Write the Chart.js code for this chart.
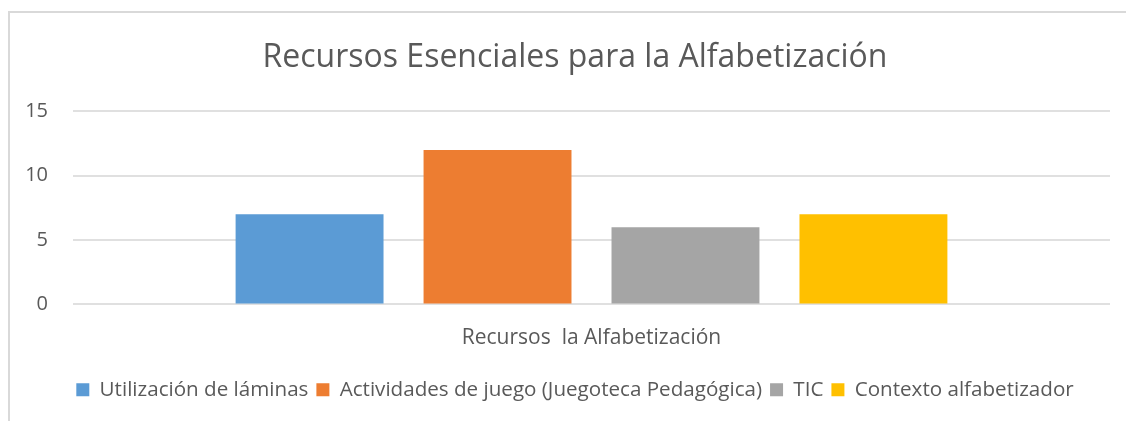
<!DOCTYPE html>
<html><head><meta charset="utf-8">
<script src="https://cdn.jsdelivr.net/npm/chart.js@4"></script>
<style>
html,body{margin:0;padding:0;overflow:hidden;background:#fff;width:1126px;height:421px;}
#frame{position:absolute;left:8px;top:11px;width:1140px;height:420px;border:2px solid #d9d9d9;box-sizing:border-box;}
#wrap{position:absolute;left:10px;top:13px;width:1130px;height:408px;}
</style></head>
<body>
<div id="frame"></div>
<div id="wrap"><canvas id="c"></canvas></div>
<script>
const categories = ["Recursos  la Alfabetización"];
const seriesNames = ["Utilización de láminas","Actividades de juego (Juegoteca Pedagógica)","TIC","Contexto alfabetizador"];
const seriesValues = [[7],[12],[6],[7]];
const seriesColors = ["#5B9BD5","#ED7D31","#A5A5A5","#FFC000"];
const yTicks = [0,5,10,15];
const FONT = "'Open Sans', sans-serif";
const TXT = "#595959";

new Chart(document.getElementById('c'), {
  type: 'bar',
  data: {
    labels: categories,
    datasets: seriesNames.map((n,i)=>({label:n,data:seriesValues[i],backgroundColor:seriesColors[i],borderWidth:0,categoryPercentage:0.725,barPercentage:0.787}))
  },
  options: {
    responsive:true, maintainAspectRatio:false, animation:false,
    layout:{padding:{left:0,right:0,top:0,bottom:11}},
    plugins:{
      title:{display:true,text:"Recursos Esenciales para la Alfabetización",color:TXT,font:{family:FONT,size:32,weight:'normal'},padding:{top:26,bottom:34}},
      legend:{position:'bottom',labels:{color:TXT,font:{family:FONT,size:20.6},boxWidth:13,boxHeight:13,padding:8}},
      tooltip:{enabled:false}
    },
    scales:{
      x:{afterFit:(s)=>{s.height=67;},grid:{display:false},border:{display:false},ticks:{color:TXT,font:{family:FONT,size:21},padding:13}},
      y:{min:0,max:15,afterBuildTicks:(s)=>{s.ticks=yTicks.map(v=>({value:v}));},
         afterFit:(s)=>{s.width=63;},
         grid:{color:"#e0e0e0",lineWidth:2,drawTicks:false},border:{display:false},
         ticks:{color:TXT,font:{family:FONT,size:20},padding:25}},
      yr:{position:'right',display:true,afterFit:(s)=>{s.width=30;},
         grid:{display:false,drawTicks:false},border:{display:false},ticks:{display:false}}
    }
  }
});
</script>
</body></html>
